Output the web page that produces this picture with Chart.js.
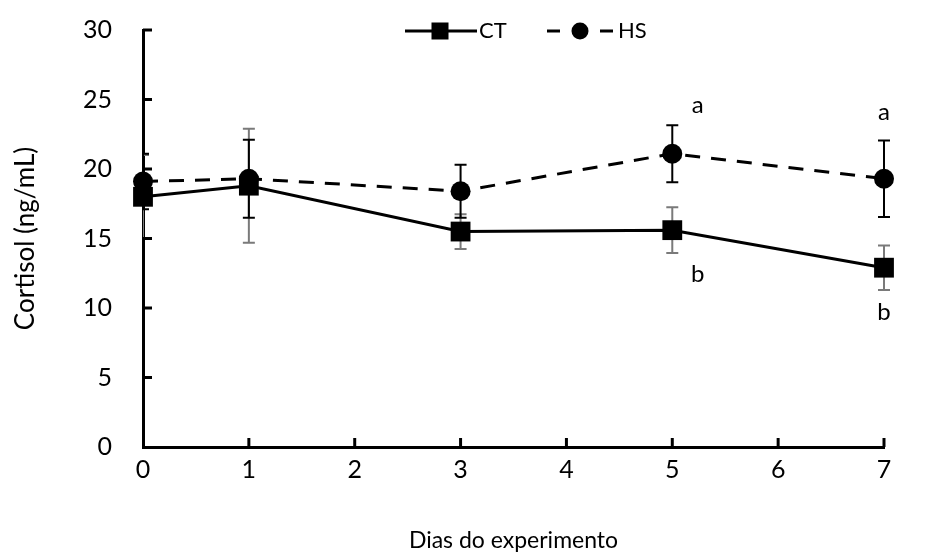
<!DOCTYPE html>
<html>
<head>
<meta charset="utf-8">
<script src="https://cdn.jsdelivr.net/npm/chart.js"></script>
<style>
  html, body { margin: 0; padding: 0; background: #fff; }
  #wrap { width: 928px; height: 554px; position: relative; }
</style>
</head>
<body>
<div id="wrap"><canvas id="c" width="928" height="554"></canvas></div>
<script>
// ---- data ----
const days = [0, 1, 3, 5, 7];
const ctMean = [18.0, 18.8, 15.5, 15.6, 12.9];
const ctErr = [3.0, 4.1, 1.25, 1.65, 1.6];
const hsMean = [19.1, 19.3, 18.4, 21.1, 19.3];
const hsErr = [2.0, 2.8, 1.9, 2.05, 2.75];
const yTicks = [0, 5, 10, 15, 20, 25, 30];
const xTicks = [0, 1, 2, 3, 4, 5, 6, 7];
const letterText = ['a', 'b', 'a', 'b'];
const letterX = [5.24, 5.24, 7, 7];
const letterY = [24.6, 12.4, 24.1, 9.7];

const FONT = 'Lato, "Open Sans", sans-serif';

const toPts = (xs, ys) => xs.map((x, i) => ({x: x, y: ys[i]}));

const errorBars = {
  id: 'errorBars',
  beforeDatasetsDraw(chart) {
    const {ctx, chartArea, scales: {x, y}} = chart;
    ctx.save();
    ctx.beginPath();
    ctx.rect(chartArea.left, 0, chart.width - chartArea.left, chart.height);
    ctx.clip();
    const draw = (means, errs, color) => {
      ctx.strokeStyle = color;
      ctx.lineWidth = 2;
      days.forEach((d, i) => {
        const px = x.getPixelForValue(d);
        const top = y.getPixelForValue(means[i] + errs[i]);
        const bot = y.getPixelForValue(means[i] - errs[i]);
        ctx.beginPath();
        ctx.moveTo(px, top); ctx.lineTo(px, bot);
        ctx.moveTo(px - 6, top); ctx.lineTo(px + 6, top);
        ctx.moveTo(px - 6, bot); ctx.lineTo(px + 6, bot);
        ctx.stroke();
      });
    };
    draw(ctMean, ctErr, '#7a7a7a');
    draw(hsMean, hsErr, '#000');
    ctx.restore();
  }
};

const extras = {
  id: 'extras',
  afterDraw(chart) {
    const {ctx, chartArea, scales: {x, y}} = chart;
    ctx.save();
    // inward tick marks
    ctx.strokeStyle = '#000';
    ctx.lineWidth = 3;
    yTicks.forEach(v => {
      if (v === 0) return;
      const py = y.getPixelForValue(v);
      ctx.beginPath();
      ctx.moveTo(chartArea.left, py); ctx.lineTo(chartArea.left + 9, py);
      ctx.stroke();
    });
    xTicks.forEach(v => {
      if (v === 0) return;
      const px = x.getPixelForValue(v);
      ctx.beginPath();
      ctx.moveTo(px, chartArea.bottom); ctx.lineTo(px, chartArea.bottom - 9);
      ctx.stroke();
    });
    // letters
    ctx.fillStyle = '#000';
    ctx.font = '24px ' + FONT;
    ctx.textAlign = 'center';
    ctx.textBaseline = 'middle';
    letterText.forEach((t, i) => {
      ctx.fillText(t, x.getPixelForValue(letterX[i]), y.getPixelForValue(letterY[i]));
    });
    // legend
    const ly = 31;
    ctx.lineWidth = 3;
    ctx.setLineDash([]);
    ctx.beginPath(); ctx.moveTo(405, ly); ctx.lineTo(477, ly); ctx.stroke();
    ctx.fillRect(440 - 8.5, ly - 8.5, 17, 17);
    ctx.beginPath(); ctx.moveTo(547, ly); ctx.lineTo(560, ly); ctx.stroke();
    ctx.beginPath(); ctx.moveTo(600, ly); ctx.lineTo(613, ly); ctx.stroke();
    ctx.beginPath(); ctx.arc(580, ly, 8.5, 0, Math.PI * 2); ctx.fill();
    ctx.font = '22px ' + FONT;
    ctx.textAlign = 'left';
    ctx.fillText('CT', 479, ly);
    ctx.fillText('HS', 618, ly);
    ctx.restore();
  }
};

new Chart(document.getElementById('c'), {
  type: 'line',
  data: {
    datasets: [
      {
        label: 'HS',
        data: toPts(days, hsMean),
        borderColor: '#000',
        backgroundColor: '#000',
        borderWidth: 3,
        borderDash: [15, 11],
        pointStyle: 'circle',
        pointRadius: 10,
        pointHoverRadius: 10,
        pointBorderWidth: 0,
        clip: false,
        order: 0
      },
      {
        label: 'CT',
        data: toPts(days, ctMean),
        borderColor: '#000',
        backgroundColor: '#000',
        borderWidth: 3,
        pointStyle: 'rect',
        pointRadius: 14,
        pointHoverRadius: 14,
        pointBorderWidth: 0,
        clip: false,
        order: 1
      }
    ]
  },
  options: {
    responsive: false,
    animation: false,
    events: [],
    layout: { padding: { top: 30, right: 44, left: 0, bottom: 0 } },
    plugins: { legend: { display: false }, tooltip: { enabled: false } },
    scales: {
      x: {
        type: 'linear',
        min: 0, max: 7,
        afterFit(s) { s.height = 107; },
        afterBuildTicks(s) { s.ticks = xTicks.map(v => ({value: v})); },
        grid: { display: false, drawTicks: false },
        border: { display: true, color: '#000', width: 3 },
        ticks: { color: '#000', font: { size: 25, family: FONT }, padding: 8 },
        title: { display: true, text: 'Dias do experimento', color: '#000',
                 font: { size: 23, family: FONT }, padding: { bottom: 0 } }
      },
      y: {
        min: 0, max: 30,
        afterFit(s) { s.width = 143; s.paddingTop = 0; s.paddingBottom = 0; },
        afterBuildTicks(s) { s.ticks = yTicks.map(v => ({value: v})); },
        grid: { display: false, drawTicks: false },
        border: { display: true, color: '#000', width: 3 },
        ticks: { color: '#000', font: { size: 25, family: FONT }, padding: 31 },
        title: { display: true, text: 'Cortisol (ng/mL)', color: '#000',
                 font: { size: 26, family: FONT }, padding: { top: 10 } }
      }
    }
  },
  plugins: [errorBars, extras]
});
</script>
</body>
</html>
